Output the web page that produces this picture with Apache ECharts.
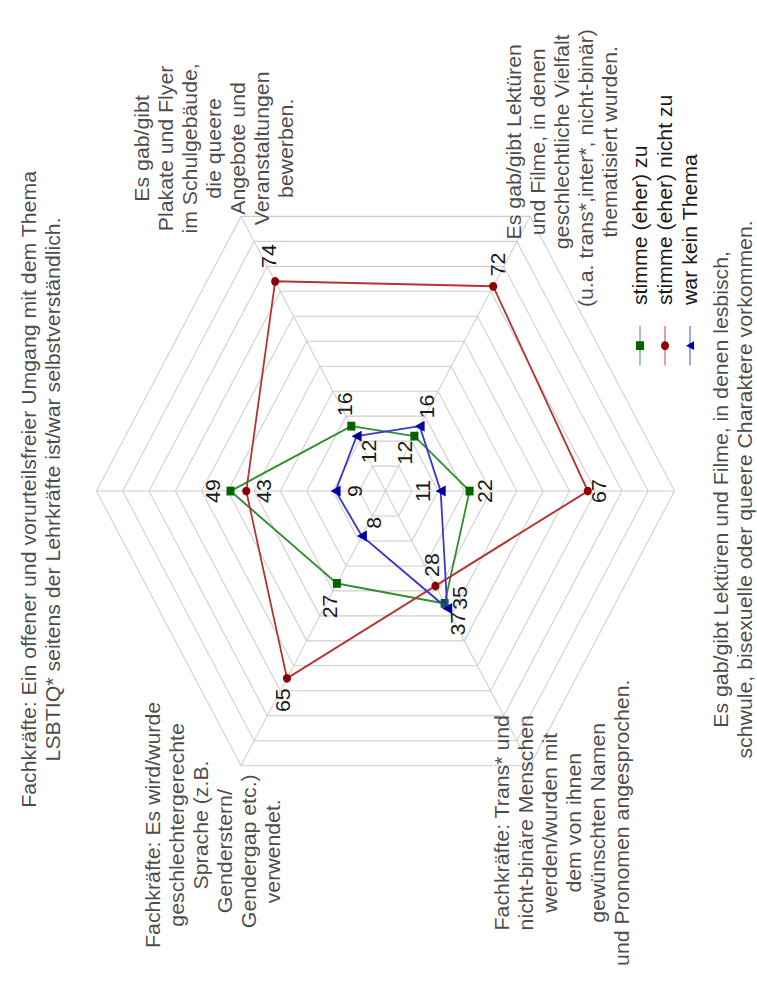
<!DOCTYPE html>
<html>
<head>
<meta charset="utf-8">
<script src="https://cdn.jsdelivr.net/npm/echarts@6/dist/echarts.min.js"></script>
<style>
html, body { margin: 0; padding: 0; background: #ffffff; overflow: hidden; width: 757px; height: 981px; }
#chart { position: absolute; left: 0; top: 981px; width: 894px; height: 757px;
  transform-origin: 0 0; transform: rotate(-90deg) scaleX(1.0973); }
</style>
</head>
<body>
<div id="chart"></div>
<script>
// ---------------- data ----------------
const categories = [
  "Fachkräfte: Ein offener und vorurteilsfreier Umgang mit dem Thema\nLSBTIQ* seitens der Lehrkräfte ist/war selbstverständlich.",
  "Fachkräfte: Es wird/wurde\ngeschlechtergerechte\nSprache (z.B.\nGenderstern/\nGendergap etc.)\nverwendet.",
  "Fachkräfte: Trans* und\nnicht-binäre Menschen\nwerden/wurden mit\ndem von ihnen\ngewünschten Namen\nund Pronomen angesprochen.",
  "Es gab/gibt Lektüren und Filme, in denen lesbisch,\nschwule, bisexuelle oder queere Charaktere vorkommen.",
  "Es gab/gibt Lektüren\nund Filme, in denen\ngeschlechtliche Vielfalt\n(u.a. trans*,inter*, nicht-binär)\nthematisiert wurden.",
  "Es gab/gibt\nPlakate und Flyer\nim Schulgebäude,\ndie queere\nAngebote und\nVeranstaltungen\nbewerben."
];
const seriesNames = ["stimme (eher) zu", "stimme (eher) nicht zu", "war kein Thema"];
const zuValues = [49, 27, 35, 22, 12, 16];
const nichtZuValues = [43, 65, 28, 67, 72, 74];
const keinThemaValues = [9, 8, 37, 11, 16, 12];
const axisMin = -10;
const axisMax = 100;
const axisSplits = 11;

// ---------------- layout & style ----------------
const CENTER = [446.5, 385.5];
const RADIUS = 289;
const FONT = "'Liberation Sans', Arial, sans-serif";
const FONT_SIZE = 19.4;
const TEXT_COLOR = '#1a1a1a';
const lineColors = ['#2f8f2f', '#b83232', '#3a3ac8'];
const pointColors = ['#006400', '#8b0000', '#0000a0'];
const symbols = ['rect', 'circle', 'triangle'];
const symbolSizes = [8, 8, 10];
// label offsets [dx, dy] per series and per axis (from the data point)
const valueLabelOffsets = [
  [[0, -17], [-21, -7], [5, 16], [0, 16], [-15, -9], [20, -6]],
  [[0, 18], [-20, -4], [19, -3], [0, 12], [20, 5], [23, -6]],
  [[0, 20], [12, 12], [-14, 11], [0, -17], [18, 8], [-14, 13]]
];
// name label offsets [dx, dy] from the outer vertex of each axis
const nameLabelOffsets = [[1.5, -55], [-54, -28], [-52, 32], [1.5, 59], [68, 32], [62, -27]];
// lines that are visually shifted (extra right padding)
const shiftedLines = { 1: [3, 4, 5], 4: [3] };

const nStep = 360 / categories.length;

function nameFormatter(idx) {
  const lines = categories[idx].split('\n');
  const shifted = shiftedLines[idx] || [];
  return lines.map((l, k) => (shifted.indexOf(k) >= 0 ? '{d|' : '{c|') + l + '}').join('\n');
}

const valueSets = [zuValues, nichtZuValues, keinThemaValues];

const dataSeries = valueSets.map((vals, s) => ({
  type: 'line',
  name: seriesNames[s],
  coordinateSystem: 'polar',
  polarIndex: 0,
  symbol: symbols[s],
  symbolSize: symbolSizes[s],
  showSymbol: true,
  lineStyle: { color: lineColors[s], width: 1.8 },
  itemStyle: { color: pointColors[s], borderWidth: 0 },
  label: {
    show: true, position: 'inside', fontSize: FONT_SIZE, fontFamily: FONT, color: TEXT_COLOR,
    formatter: p => String(p.value[0])
  },
  emphasis: { disabled: true },
  silent: true,
  animation: false,
  z: 3 + s,
  data: vals.map((v, i) => ({ value: [v, i * nStep], label: { offset: valueLabelOffsets[s][i] } }))
    .concat([{ value: [vals[0], 360], symbol: 'none', label: { show: false } }])
}));

const nameSeries = {
  type: 'scatter',
  name: 'axisNames',
  coordinateSystem: 'polar',
  polarIndex: 0,
  symbolSize: 1,
  itemStyle: { color: 'rgba(0,0,0,0)' },
  silent: true,
  animation: false,
  label: {
    show: true, position: 'inside', color: TEXT_COLOR, fontFamily: FONT,
    formatter: p => nameFormatter(p.dataIndex),
    rich: {
      c: { align: 'center', fontSize: FONT_SIZE, lineHeight: 24, fontFamily: FONT, color: TEXT_COLOR },
      d: { align: 'center', fontSize: FONT_SIZE, lineHeight: 24, fontFamily: FONT, color: TEXT_COLOR, padding: [0, 48, 0, 0] }
    }
  },
  data: categories.map((c, i) => ({ value: [axisMax, i * nStep], label: { offset: nameLabelOffsets[i] } }))
};

const chart = echarts.init(document.getElementById('chart'), null, { renderer: 'svg' });
chart.setOption({
  animation: false,
  backgroundColor: '#ffffff',
  textStyle: { fontFamily: FONT },
  radar: {
    center: CENTER,
    radius: RADIUS,
    startAngle: 90,
    splitNumber: axisSplits,
    shape: 'polygon',
    indicator: categories.map(c => ({ name: c, min: axisMin, max: axisMax })),
    axisName: { show: false },
    axisLine: { lineStyle: { color: '#cdcdcd', width: 1 } },
    splitLine: { lineStyle: { color: '#cdcdcd', width: 1 } },
    splitArea: { show: false },
    axisTick: { show: false },
    axisLabel: { show: false },
    silent: true
  },
  polar: { center: CENTER, radius: RADIUS },
  angleAxis: { type: 'value', min: 0, max: 360, startAngle: 90, clockwise: false, show: false },
  radiusAxis: { type: 'value', min: axisMin, max: axisMax, show: false },
  legend: {
    data: seriesNames,
    orient: 'vertical',
    left: 555,
    top: 625,
    itemWidth: 36,
    itemHeight: 10,
    itemGap: 5,
    selectedMode: false,
    lineStyle: { opacity: 0.45 },
    textStyle: { fontSize: FONT_SIZE, lineHeight: 20, color: TEXT_COLOR, fontFamily: FONT, padding: [0, 0, 0, 14] }
  },
  series: dataSeries.concat([nameSeries])
});
</script>
</body>
</html>
